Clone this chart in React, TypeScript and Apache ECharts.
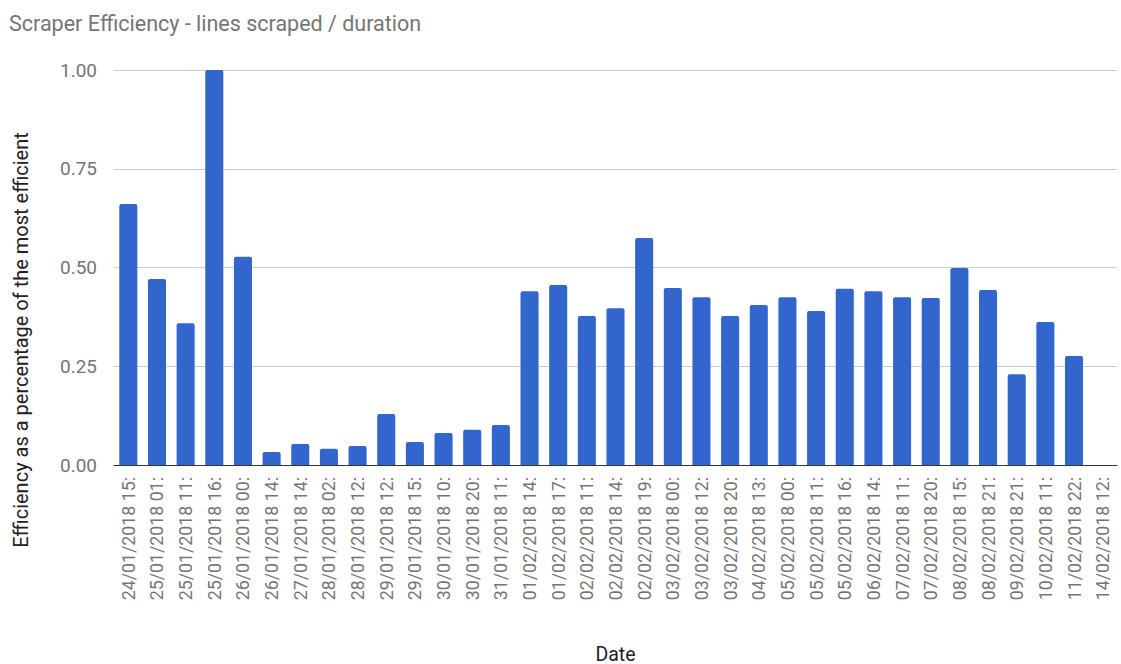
import React, { useEffect, useRef } from "react";
import * as echarts from "echarts";

const categories = [
  "24/01/2018 15:", "25/01/2018 01:", "25/01/2018 11:", "25/01/2018 16:", "26/01/2018 00:",
  "26/01/2018 14:", "27/01/2018 14:", "28/01/2018 02:", "28/01/2018 12:", "29/01/2018 12:",
  "29/01/2018 15:", "30/01/2018 10:", "30/01/2018 20:", "31/01/2018 11:", "01/02/2018 14:",
  "01/02/2018 17:", "02/02/2018 11:", "02/02/2018 14:", "02/02/2018 19:", "03/02/2018 00:",
  "03/02/2018 12:", "03/02/2018 20:", "04/02/2018 13:", "05/02/2018 00:", "05/02/2018 11:",
  "05/02/2018 16:", "06/02/2018 14:", "07/02/2018 11:", "07/02/2018 20:", "08/02/2018 15:",
  "08/02/2018 21:", "09/02/2018 21:", "10/02/2018 11:", "11/02/2018 22:", "14/02/2018 12:",
];

const efficiency = [
  0.661, 0.471, 0.359, 1.0, 0.527,
  0.033, 0.053, 0.041, 0.048, 0.129,
  0.058, 0.081, 0.089, 0.101, 0.44,
  0.456, 0.377, 0.397, 0.575, 0.448,
  0.425, 0.377, 0.405, 0.425, 0.39,
  0.446, 0.44, 0.425, 0.423, 0.499,
  0.443, 0.23, 0.362, 0.276, 0,
];

const yTicks = [0, 0.25, 0.5, 0.75, 1.0];
const yAxisTitle = "Efficiency as a percentage of the most efficient";

export default function App() {
  const ref = useRef<HTMLDivElement>(null);
  useEffect(() => {
    if (!ref.current) return;
    const chart = echarts.init(ref.current, undefined, { renderer: "svg" });
    chart.setOption({
      animation: false,
      textStyle: { fontFamily: "Roboto" },
      title: {
        text: "Scraper Efficiency - lines scraped / duration",
        left: 4,
        top: 7,
        textStyle: { fontFamily: "Roboto", fontSize: 21.5, fontWeight: "normal", color: "#757575" },
      },
      grid: { left: 114, right: 4, top: 70, bottom: 199, outerBoundsMode: "none", containLabel: false },
      graphic: [
        {
          type: "text",
          x: 21,
          y: 340,
          rotation: Math.PI / 2,
          style: {
            text: yAxisTitle,
            fontFamily: "Roboto",
            fontSize: 20,
            fill: "#222",
            align: "center",
            verticalAlign: "middle",
          },
        },
      ],
      xAxis: {
        type: "category",
        data: categories,
        name: "Date",
        nameLocation: "middle",
        nameGap: 179,
        nameTextStyle: { fontFamily: "Roboto", fontSize: 19.5, color: "#222" },
        axisLine: { lineStyle: { color: "#333", width: 1 } },
        axisTick: { show: false },
        axisLabel: {
          rotate: 90,
          interval: 0,
          margin: 12,
          fontFamily: "Roboto",
          fontSize: 17.8,
          color: "#757575",
        },
      },
      yAxis: {
        type: "value",
        min: 0,
        max: 1,
        interval: 0.25,
        axisLine: { show: false },
        axisTick: { show: false },
        splitLine: { lineStyle: { color: "#cccccc" } },
        axisLabel: {
          margin: 17,
          fontFamily: "Roboto",
          fontSize: 19,
          color: "#757575",
          formatter: (v: number) => (yTicks.includes(v) ? v.toFixed(2) : ""),
        },
      },
      series: [
        {
          type: "bar",
          data: efficiency,
          barCategoryGap: "37%",
          itemStyle: { color: "#3366cc", borderRadius: [2, 2, 0, 0] },
        },
      ],
    });
    return () => chart.dispose();
  }, []);
  return <div ref={ref} style={{ width: 1121, height: 664, position: "absolute", left: 0, top: 0 }} />;
}
